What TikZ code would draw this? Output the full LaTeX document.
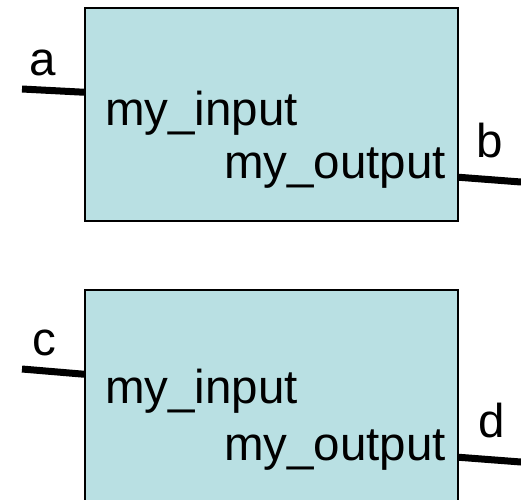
\documentclass[tikz,border=0pt]{standalone}
\usepackage{fontspec}
\setmainfont{Liberation Sans}
\usetikzlibrary{calc}
\definecolor{blockfill}{RGB}{185,224,227}
\tikzset{
  block/.style={draw=black, line width=1.5pt, fill=blockfill, rectangle,
    inner sep=0pt, minimum width=373pt, minimum height=#1},
  wire/.style={line width=7pt, black},
  txt/.style={inner sep=0pt, font=\fontsize{47.5}{57}\selectfont},
}
\begin{document}
\begin{tikzpicture}[x=1pt, y=-1pt]
  \clip (0,0) rectangle (521,499);
  \useasboundingbox (0,0) rectangle (521,499);

  % upper block
  \node[block=213pt] (box1) at (271.5,114.5) {};
  \node[txt, anchor=base west] (in1) at (105,125) {my\_input};
  \node[txt, anchor=base east] (out1) at (446,178) {my\_output};
  \coordinate (a) at (22,89);
  \coordinate (b) at (521,182);
  \draw[wire] (a) -- ($(box1.north west)+(0,85)$);
  \draw[wire] ($(box1.north east)+(0,170)$) -- (b);
  \node[txt, anchor=base] (la) at (43,75) {a};
  \node[txt, anchor=base] (lb) at (490,157) {b};

  % lower block
  \node[block=230pt] (box2) at (271.5,405) {};
  \node[txt, anchor=base west] (in2) at (105,403) {my\_input};
  \node[txt, anchor=base east] (out2) at (446,460) {my\_output};
  \coordinate (c) at (22,369);
  \coordinate (d) at (521,462);
  \draw[wire] (c) -- ($(box2.north west)+(0,85)$);
  \draw[wire] ($(box2.north east)+(0,168)$) -- (d);
  \node[txt, anchor=base] (lc) at (44,355) {c};
  \node[txt, anchor=base] (ld) at (492,437) {d};
\end{tikzpicture}
\end{document}
